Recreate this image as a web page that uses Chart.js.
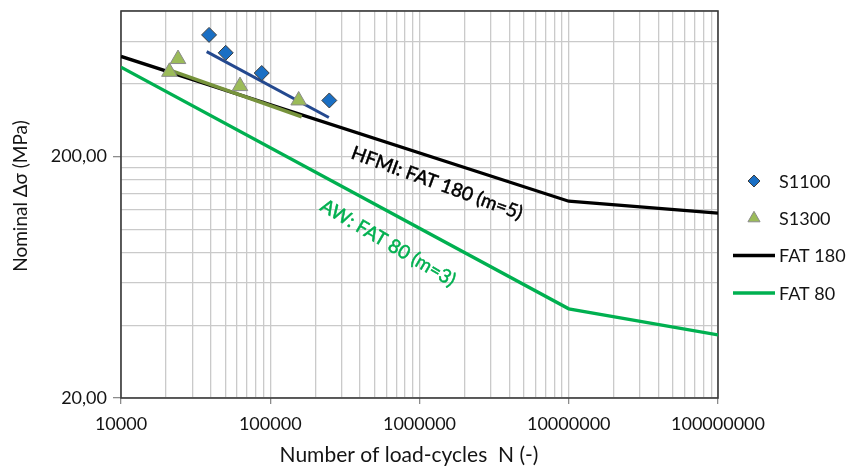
<!DOCTYPE html>
<html>
<head>
<meta charset="utf-8">
<script src="https://cdn.jsdelivr.net/npm/chart.js@4/dist/chart.umd.min.js"></script>
<style>
  html, body { margin: 0; padding: 0; background: #fff; }
  #wrap { width: 860px; height: 469px; }
</style>
</head>
<body>
<div id="wrap"><canvas id="sn"></canvas></div>
<script>
// test results
const s1100N = [38900, 50300, 87700, 248700];
const s1100S = [637, 537, 443, 341];
const s1300N = [24100, 21100, 62700, 155000];
const s1300S = [506, 448, 391, 341];

// regression lines through the test points
const s1100FitN = [37500, 247000];
const s1100FitS = [543, 290];
const s1300FitN = [21000, 162500];
const s1300FitS = [456, 292];

// IIW design curves
const fatN = [1e4, 1e7, 1e8];
const fat180S = [519, 130.5, 116.5];
const fat80S = [468, 46.8, 36.5];

// axis ticks
const xMajor = [1e4, 1e5, 1e6, 1e7, 1e8];
const yMajor = [20, 200];
const yGrid = [20, 40, 60, 80, 100, 120, 140, 160, 180, 200, 400, 600, 800];

const pts = (xs, ys) => xs.map((x, i) => ({ x: x, y: ys[i] }));

function xGridTicks() {
  let out = [];
  for (let d = 0; d < xMajor.length - 1; d++) {
    for (let k = 1; k < 10; k++) out.push(xMajor[d] * k);
  }
  out.push(xMajor[xMajor.length - 1]);
  return out;
}

const FONT = "Lato";
const INK = "#141414";

Chart.defaults.font.family = FONT;
Chart.defaults.font.size = 18;
Chart.defaults.color = INK;

const extras = {
  id: "extras",
  beforeDatasetsDraw(chart) {
    const { ctx, chartArea: a } = chart;
    ctx.save();
    ctx.strokeStyle = "#3a3a3a";
    ctx.lineWidth = 1.6;
    ctx.strokeRect(a.left, a.top, a.right - a.left, a.bottom - a.top);
    ctx.restore();
  },
  afterDatasetsDraw(chart) {
    const { ctx } = chart;
    const xs = chart.scales.x, ys = chart.scales.y;
    ctx.save();

    // curve labels
    const notes = [
      { text: "HFMI: FAT 180 (m=5)", n: 1.31e6, s: 155, deg: 20, color: "#000000" },
      { text: "AW: FAT 80 (m=3)", n: 6.15e5, s: 87.7, deg: 30.5, color: "#00b050" }
    ];
    ctx.font = "19px " + FONT;
    ctx.textAlign = "center";
    ctx.textBaseline = "middle";
    notes.forEach((nt) => {
      ctx.save();
      ctx.translate(xs.getPixelForValue(nt.n), ys.getPixelForValue(nt.s));
      ctx.rotate(nt.deg * Math.PI / 180);
      ctx.fillStyle = nt.color;
      ctx.fillText(nt.text, 0, 0);
      ctx.lineWidth = 0.5;
      ctx.strokeStyle = nt.color;
      ctx.strokeText(nt.text, 0, 0);
      ctx.restore();
    });

    // axis titles
    ctx.fillStyle = INK;
    ctx.font = "21px " + FONT;
    ctx.textBaseline = "alphabetic";
    ctx.fillText("Number of load-cycles  N (-)", 409, 462);
    ctx.font = "19px " + FONT;
    ctx.textBaseline = "middle";
    ctx.save();
    ctx.translate(21, 196);
    ctx.rotate(-Math.PI / 2);
    ctx.fillText("Nominal \u0394\u03c3 (MPa)", 0, 0);
    ctx.restore();

    // legend
    const legendRows = [0, 1, 4, 5];
    ctx.font = "18px " + FONT;
    ctx.textAlign = "left";
    legendRows.forEach((di, i) => {
      const ds = chart.data.datasets[di];
      const y = 181 + i * 37.3;
      if (ds.showLine) {
        ctx.strokeStyle = ds.borderColor;
        ctx.lineWidth = 3.5;
        ctx.beginPath();
        ctx.moveTo(733, y);
        ctx.lineTo(775, y);
        ctx.stroke();
      } else {
        ctx.fillStyle = ds.backgroundColor;
        ctx.strokeStyle = ds.borderColor;
        ctx.lineWidth = 1;
        Chart.helpers.drawPoint(ctx, { pointStyle: ds.pointStyle, radius: ds.pointStyle === "triangle" ? 7 : 6, borderWidth: 1, rotation: 0 }, 754, y);
      }
      ctx.fillStyle = INK;
      ctx.fillText(ds.label, 779, y + 1);
    });
    ctx.restore();
  }
};

new Chart(document.getElementById("sn"), {
  type: "scatter",
  data: {
    datasets: [
      { label: "S1100", data: pts(s1100N, s1100S), pointStyle: "rectRot", pointRadius: 7.5, pointHoverRadius: 7.5,
        backgroundColor: "#1a6fc4", borderColor: "#3d3d3d", pointBorderWidth: 1 },
      { label: "S1300", data: pts(s1300N, s1300S), pointStyle: "triangle", pointRadius: 9, pointHoverRadius: 9,
        backgroundColor: "#9bbb59", borderColor: "#8a8a8a", pointBorderWidth: 1 },
      { label: "S1100 fit", data: pts(s1100FitN, s1100FitS), showLine: true, pointRadius: 0,
        borderColor: "#24498f", borderWidth: 3 },
      { label: "S1300 fit", data: pts(s1300FitN, s1300FitS), showLine: true, pointRadius: 0,
        borderColor: "#77933c", borderWidth: 3.5 },
      { label: "FAT 180", data: pts(fatN, fat180S), showLine: true, pointRadius: 0,
        borderColor: "#000000", borderWidth: 3.3 },
      { label: "FAT 80", data: pts(fatN, fat80S), showLine: true, pointRadius: 0,
        borderColor: "#00b050", borderWidth: 3.3 }
    ]
  },
  options: {
    responsive: true,
    maintainAspectRatio: false,
    animation: false,
    devicePixelRatio: 1,
    layout: { padding: { left: 0, top: 11, right: 142, bottom: 0 } },
    plugins: { legend: { display: false }, tooltip: { enabled: false } },
    scales: {
      x: {
        type: "logarithmic",
        min: 1e4,
        max: 1e8,
        afterFit: (s) => { s.height = 71; s.paddingLeft = 0; s.paddingRight = 0; },
        afterBuildTicks: (s) => { s.ticks = xGridTicks().map((v) => ({ value: v, major: xMajor.includes(v) })); },
        border: { display: false },
        grid: {
          color: "#cacaca",
          lineWidth: 1.3,
          tickLength: 6,
          tickColor: (c) => (c.tick && xMajor.includes(c.tick.value) ? "#8c8c8c" : "rgba(0,0,0,0)")
        },
        ticks: {
          autoSkip: false,
          maxRotation: 0,
          padding: 9,
          color: INK,
          callback: (v) => (xMajor.includes(v) ? String(v) : "")
        }
      },
      y: {
        type: "logarithmic",
        min: 20,
        max: 800,
        afterFit: (s) => { s.width = 121; s.paddingTop = 0; s.paddingBottom = 0; },
        afterBuildTicks: (s) => { s.ticks = yGrid.map((v) => ({ value: v, major: yMajor.includes(v) })); },
        border: { display: false },
        grid: {
          color: "#cacaca",
          lineWidth: 1.3,
          tickLength: 8,
          tickColor: (c) => (c.tick && yMajor.includes(c.tick.value) ? "#8c8c8c" : "rgba(0,0,0,0)")
        },
        ticks: {
          autoSkip: false,
          padding: 6,
          color: INK,
          callback: (v) => (yMajor.includes(v) ? v.toFixed(2).replace(".", ",") : "")
        }
      }
    }
  },
  plugins: [extras]
});
</script>
</body>
</html>
